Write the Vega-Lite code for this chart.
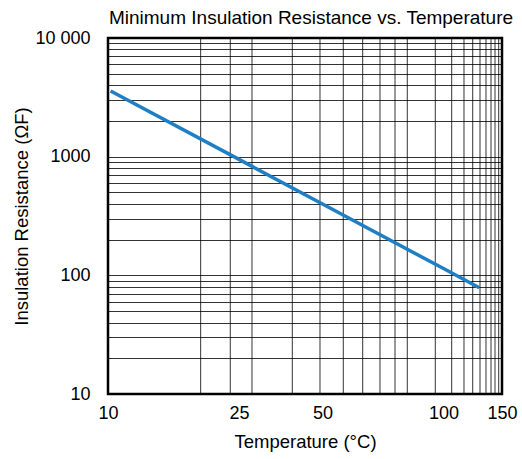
{
  "$schema": "https://vega.github.io/schema/vega-lite/v6.json",
  "width": 394,
  "height": 356,
  "autosize": "none",
  "padding": {"left": 108, "top": 38, "right": 20, "bottom": 65},
  "config": {
    "view": {"stroke": "#000", "strokeWidth": 2.5},
    "font": "Liberation Sans"
  },
  "title": {
    "text": "Minimum Insulation Resistance vs. Temperature",
    "fontSize": 19,
    "fontWeight": "normal",
    "color": "#000",
    "offset": 1,
    "dx": 6
  },
  "datasets": {
    "xgrid": [
      {"T": 20.61}, {"T": 24.0}, {"T": 28.89}, {"T": 40.96}, {"T": 49.25},
      {"T": 58.59}, {"T": 66.61}, {"T": 73.76}, {"T": 79.96}, {"T": 85.04},
      {"T": 96.61}, {"T": 107.01}, {"T": 117.52}, {"T": 124.96}, {"T": 131.2},
      {"T": 136.32}, {"T": 140.6}, {"T": 144.02}, {"T": 147.18}
    ],
    "curve": [
      {"T": 10.3, "R": 3580},
      {"T": 25, "R": 948},
      {"T": 50, "R": 399},
      {"T": 100, "R": 114},
      {"T": 130.6, "R": 78.7}
    ]
  },
  "layer": [
    {
      "data": {"name": "xgrid"},
      "mark": {"type": "rule", "color": "#000", "strokeWidth": 1, "opacity": 0.8},
      "encoding": {
        "x": {
          "field": "T",
          "type": "quantitative",
          "scale": {"type": "linear", "domain": [10, 25, 50, 100, 150], "range": [0, 131, 214.5, 335.5, 394]},
          "axis": {
            "values": [10, 25, 50, 100, 150],
            "grid": false,
            "ticks": false,
            "domain": false,
            "labelFontSize": 18,
            "labelColor": "#000",
            "labelPadding": 10,
            "labelOverlap": false,
            "labelFlush": false,
            "title": "Temperature (°C)",
            "titleFontSize": 18.5,
            "titleFontWeight": "normal",
            "titleColor": "#000",
            "titlePadding": 10
          }
        }
      }
    },
    {
      "data": {"name": "curve"},
      "mark": {"type": "line", "color": "#1f7fc4", "strokeWidth": 3.5},
      "encoding": {
        "x": {
          "field": "T",
          "type": "quantitative",
          "scale": {"type": "linear", "domain": [10, 25, 50, 100, 150], "range": [0, 131, 214.5, 335.5, 394]}
        },
        "y": {
          "field": "R",
          "type": "quantitative",
          "scale": {"type": "log", "domain": [10, 10000], "nice": false},
          "axis": {
            "values": [10, 20, 30, 40, 50, 60, 70, 80, 90, 100, 200, 300, 400, 500, 600, 700, 800, 900, 1000, 2000, 3000, 4000, 5000, 6000, 7000, 8000, 9000, 10000],
            "grid": true,
            "gridColor": "#000",
            "gridOpacity": 0.8,
            "gridWidth": 1,
            "ticks": false,
            "domain": false,
            "labelExpr": "datum.value == 10000 ? '10 000' : (datum.value == 10 || datum.value == 100 || datum.value == 1000 ? format(datum.value, 'd') : '')",
            "labelFontSize": 18,
            "labelColor": "#000",
            "labelPadding": 18,
            "labelOverlap": false,
            "title": "Insulation Resistance (ΩF)",
            "titleFontSize": 18.5,
            "titleFontWeight": "normal",
            "titleColor": "#000",
            "titlePadding": 3
          }
        }
      }
    }
  ]
}
